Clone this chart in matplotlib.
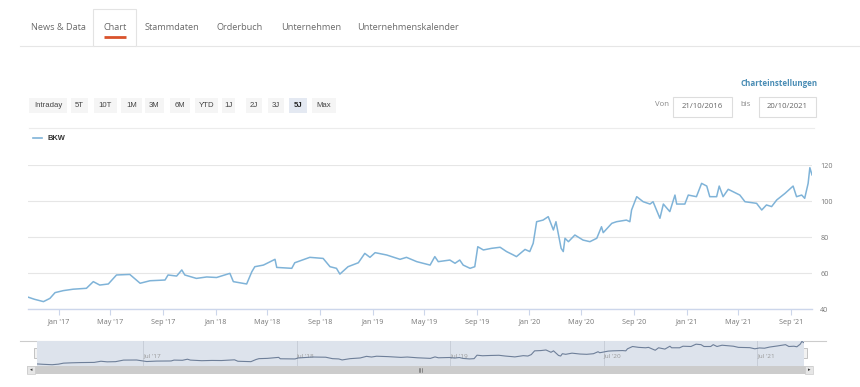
import pandas as pd
import matplotlib
matplotlib.use("Agg")
import matplotlib.pyplot as plt
import matplotlib.dates as mdates
from matplotlib.patches import Rectangle

# Kursverlauf BKW
dates = ["2016-10-21", "2016-11-05", "2016-11-26", "2016-12-11", "2016-12-23",
         "2017-01-11", "2017-02-03", "2017-03-06", "2017-03-22", "2017-04-06",
         "2017-04-26", "2017-05-15", "2017-06-15", "2017-07-09", "2017-08-01",
         "2017-09-05", "2017-09-12", "2017-10-02", "2017-10-14", "2017-10-21",
         "2017-11-17", "2017-12-11", "2018-01-03", "2018-02-03", "2018-02-11",
         "2018-03-14", "2018-03-26", "2018-04-02", "2018-04-22", "2018-05-19",
         "2018-05-23", "2018-06-27", "2018-07-04", "2018-08-08", "2018-09-08",
         "2018-09-24", "2018-10-09", "2018-10-17", "2018-11-05", "2018-11-29",
         "2018-12-14", "2018-12-26", "2019-01-07", "2019-02-03", "2019-03-06",
         "2019-03-21", "2019-04-14", "2019-05-15", "2019-05-26", "2019-06-03",
         "2019-06-30", "2019-07-12", "2019-07-23", "2019-07-31", "2019-08-16",
         "2019-08-27", "2019-09-03", "2019-09-16", "2019-10-05", "2019-10-25",
         "2019-11-09", "2019-11-25", "2019-12-02", "2019-12-22", "2020-01-02",
         "2020-01-10", "2020-01-18", "2020-02-02", "2020-02-14", "2020-02-26",
         "2020-03-03", "2020-03-15", "2020-03-20", "2020-03-24", "2020-04-01",
         "2020-04-16", "2020-05-05", "2020-05-21", "2020-06-06", "2020-06-17",
         "2020-06-21", "2020-07-11", "2020-07-22", "2020-08-14", "2020-08-22",
         "2020-08-26", "2020-09-07", "2020-09-22", "2020-10-08", "2020-10-15",
         "2020-10-31", "2020-11-08", "2020-11-23", "2020-12-05", "2020-12-09",
         "2020-12-28", "2021-01-05", "2021-01-24", "2021-02-05", "2021-02-17",
         "2021-02-24", "2021-03-12", "2021-03-18", "2021-03-27", "2021-04-08",
         "2021-05-05", "2021-05-17", "2021-06-13", "2021-06-25", "2021-07-06",
         "2021-07-18", "2021-07-30", "2021-08-18", "2021-09-06", "2021-09-14",
         "2021-09-26", "2021-10-03", "2021-10-11", "2021-10-15", "2021-10-20"]
values = [46.6, 45.4, 44.1, 45.9, 49.1,
          50.2, 51.0, 51.5, 55.2, 53.3,
          53.9, 58.9, 59.2, 54.3, 55.7,
          56.1, 58.9, 58.3, 61.7, 58.9,
          57.0, 57.8, 57.5, 59.8, 55.2,
          53.9, 60.7, 63.5, 64.4, 67.6,
          63.1, 62.6, 65.7, 68.7, 68.1,
          63.5, 62.6, 59.4, 63.5, 65.7,
          70.9, 68.7, 71.3, 70.0, 67.6,
          68.7, 66.3, 64.4, 69.1, 66.3,
          67.2, 65.4, 67.2, 64.4, 62.6,
          63.5, 74.6, 72.8, 73.7, 74.3,
          71.9, 70.0, 69.1, 73.1, 71.9,
          76.5, 88.5, 89.4, 91.3, 83.9,
          88.5, 73.7, 71.9, 79.3, 77.4,
          81.1, 78.3, 77.4, 79.3, 85.7,
          82.4, 87.6, 88.5, 89.4, 88.5,
          95.0, 102.4, 99.6, 98.3, 99.6,
          90.4, 98.3, 94.1, 103.3, 98.3,
          98.3, 103.3, 102.4, 109.8, 108.3,
          102.4, 102.4, 108.3, 102.4, 106.5,
          103.3, 99.6, 98.7, 95.0, 97.8,
          96.9, 100.6, 104.2, 108.3, 102.4,
          103.3, 101.5, 109.8, 118.5, 114.5]

tabs = ["News & Data", "Chart", "Stammdaten", "Orderbuch", "Unternehmen", "Unternehmenskalender"]
buttons = ["Intraday", "5T", "10T", "1M", "3M", "6M", "YTD", "1J", "2J", "3J", "5J", "Max"]
y_ticks = [40, 60, 80, 100, 120]

df = pd.DataFrame({"datum": pd.to_datetime(dates), "kurs": values})

W, H = 860, 387
fig = plt.figure(figsize=(W / 100, H / 100), dpi=100)


def rect(x0, y0, x1, y1):
    # Pixel-Box (oben links Ursprung) -> Figure-Koordinaten
    return [x0 / W, 1 - y1 / H, (x1 - x0) / W, (y1 - y0) / H]


# Overlay fuer Seitenelemente
ov = fig.add_axes([0, 0, 1, 1])
ov.set_xlim(0, W)
ov.set_ylim(H, 0)
ov.axis("off")

# Tabs
tab_x = [58, 115, 172, 240, 311, 408]
ov.add_patch(Rectangle((93, 9), 43, 37, facecolor="white", edgecolor="#e3e3e3", lw=0.8))
ov.plot([20, 93], [45.5, 45.5], color="#e6e6e6", lw=0.8)
ov.plot([136, 860], [45.5, 45.5], color="#e6e6e6", lw=0.8)
for t, x in zip(tabs, tab_x):
    ov.text(x, 28, t, ha="center", va="center", fontsize=6.6, color="#6a6a6a",
            family="Open Sans")
ov.plot([104, 126], [37, 37], color="#d9532c", lw=2, solid_capstyle="butt")

# Charteinstellungen
ov.text(818, 83, "Charteinstellungen", ha="right", va="center", fontsize=5.8,
        color="#4a8db5", family="Open Sans", fontweight="bold")

# Zeitraum-Buttons
btn_box = [(29, 67), (71, 88), (94, 117), (121, 142), (145, 164), (170, 190),
           (195, 218), (222, 235), (246, 262), (268, 284), (289, 307), (312, 336)]
for b, (x0, x1) in zip(buttons, btn_box):
    fc = "#e4e9f2" if b == "5J" else "#f5f5f5"
    ov.add_patch(Rectangle((x0, 98), x1 - x0, 15, facecolor=fc, edgecolor="none"))
    ov.text((x0 + x1) / 2, 105.5, b, ha="center", va="center", fontsize=5.6,
            color="#222222" if b == "5J" else "#444444", family="Liberation Sans",
            fontweight="bold" if b == "5J" else "normal")

# Datumsfelder
ov.text(662, 105, "Von", ha="center", va="center", fontsize=5.6, color="#888888",
        family="Open Sans")
ov.add_patch(Rectangle((673, 97), 59, 20, facecolor="white", edgecolor="#dddddd", lw=0.8))
ov.text(702.5, 106.5, "21/10/2016", ha="center", va="center", fontsize=5.6,
        color="#666666", family="Open Sans")
ov.text(746, 105, "bis", ha="center", va="center", fontsize=5.6, color="#888888",
        family="Open Sans")
ov.add_patch(Rectangle((759, 97), 57, 20, facecolor="white", edgecolor="#dddddd", lw=0.8))
ov.text(787.5, 106.5, "20/10/2021", ha="center", va="center", fontsize=5.6,
        color="#666666", family="Open Sans")
ov.plot([29, 814], [128, 128], color="#ececec", lw=0.8)

# Legende
ov.plot([33, 42], [138, 138], color="#7fb3d8", lw=1.2)
ov.text(47, 138, "BKW", ha="left", va="center", fontsize=5.4, color="#333333",
        family="Liberation Sans", fontweight="bold")

# Hauptchart
ax = fig.add_axes(rect(28, 165, 812, 309))
ax.plot(df["datum"], df["kurs"], color="#7fb3d8", lw=1.1)
ax.set_xlim(pd.Timestamp("2016-10-21"), pd.Timestamp("2021-10-20"))
ax.set_ylim(40, 120)
ax.set_yticks(y_ticks)
ax.yaxis.tick_right()
ax.grid(axis="y", color="#e6e6e6", lw=0.8)
ax.set_axisbelow(True)
for s in ["top", "left", "right"]:
    ax.spines[s].set_visible(False)
ax.spines["bottom"].set_color("#ccd6eb")
ax.spines["bottom"].set_linewidth(1)
ax.xaxis.set_major_locator(mdates.MonthLocator(bymonth=[1, 5, 9]))
ax.xaxis.set_major_formatter(mdates.DateFormatter("%b '%y"))
ax.tick_params(axis="x", colors="#ccd6eb", length=4, width=0.8, labelsize=5.2,
               labelcolor="#777777", pad=3)
ax.tick_params(axis="y", length=0, labelsize=5.2, labelcolor="#777777", pad=6)
for lab in ax.get_xticklabels() + ax.get_yticklabels():
    lab.set_family("Open Sans")
ax.patch.set_alpha(0)

# Navigator
ov.plot([20, 826], [341, 341], color="#cccccc", lw=0.8)
nav = fig.add_axes(rect(37, 341, 804, 366))
nav.set_facecolor("#dde3ec")
nav.plot(df["datum"], df["kurs"], color="#6e7f99", lw=0.8)
nav.set_xlim(pd.Timestamp("2016-10-21"), pd.Timestamp("2021-10-20"))
nav.set_ylim(40, 120)
nav.xaxis.set_major_locator(mdates.MonthLocator(bymonth=[7]))
nav.xaxis.set_major_formatter(mdates.DateFormatter("%b '%y"))
nav.grid(axis="x", color="#c8ced8", lw=0.7)
nav.set_yticks([])
nav.tick_params(axis="x", length=0, labelsize=4.6, labelcolor="#999999", direction="in", pad=-9)
for lab in nav.get_xticklabels():
    lab.set_family("Open Sans")
    lab.set_horizontalalignment("left")
for s in nav.spines.values():
    s.set_visible(False)

# Navigator-Griffe
for hx in [37, 804]:
    ov.add_patch(Rectangle((hx - 3, 348), 6, 10, facecolor="#f2f2f2", edgecolor="#bbbbbb",
                           lw=0.6, zorder=5))

# Scrollbar
ov.add_patch(Rectangle((27, 366), 786, 8, facecolor="#cccccc", edgecolor="none"))
ov.add_patch(Rectangle((27, 366), 8, 8, facecolor="#e6e6e6", edgecolor="#cccccc", lw=0.5))
ov.add_patch(Rectangle((805, 366), 8, 8, facecolor="#e6e6e6", edgecolor="#cccccc", lw=0.5))
ov.text(31, 370, "◂", ha="center", va="center", fontsize=3.5, color="#333333")
ov.text(809, 370, "▸", ha="center", va="center", fontsize=3.5, color="#333333")
for gx in [418.5, 420, 421.5]:
    ov.plot([gx, gx], [368, 372], color="#555555", lw=0.4)

plt.savefig("out.png", dpi=100)
plt.close()
